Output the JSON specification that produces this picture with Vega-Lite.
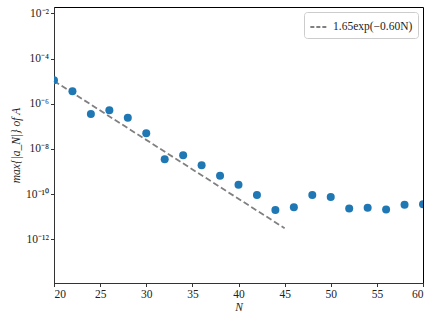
{
  "$schema": "https://vega.github.io/schema/vega-lite/v6.json",
  "autosize": {"type": "none"},
  "padding": {"left": 54, "top": 7, "right": 13, "bottom": 37},
  "width": 369,
  "height": 276,
  "background": "white",
  "config": {
    "view": {"stroke": "black", "strokeWidth": 1},
    "font": "Liberation Serif",
    "axis": {
      "grid": false,
      "domainColor": "#333",
      "tickColor": "#333",
      "labelColor": "#222",
      "titleColor": "#222",
      "labelFont": "Liberation Serif",
      "titleFont": "Liberation Serif",
      "labelFontSize": 11.5,
      "titleFontSize": 11.5,
      "titleFontWeight": "normal",
      "tickSize": 3.5
    }
  },
  "layer": [
    {
      "data": {"values": [
        {"N": 20, "label": "1.65exp(−0.60N)", "v": 1.01e-5},
        {"N": 45, "label": "1.65exp(−0.60N)", "v": 3.1e-12}
      ]},
      "mark": {"type": "line", "strokeDash": [6, 3], "strokeWidth": 1.8},
      "encoding": {
        "x": {"field": "N", "type": "quantitative"},
        "y": {"field": "v", "type": "quantitative"},
        "color": {
          "field": "label", "type": "nominal",
          "scale": {"range": ["#808080"]},
          "legend": {
            "title": null,
            "orient": "top-right",
            "offset": 5,
            "symbolType": "stroke",
            "symbolDash": [4, 2],
            "symbolStrokeWidth": 1.8,
            "symbolSize": 300,
            "labelFont": "Liberation Serif",
            "labelFontSize": 11.5,
            "labelColor": "#222",
            "fillColor": "white",
            "strokeColor": "#cccccc",
            "cornerRadius": 3,
            "padding": 5
          }
        }
      }
    },
    {
      "data": {"values": [
        {"N": 20, "v": 1.1e-5},
        {"N": 22, "v": 3.6e-6},
        {"N": 24, "v": 3.5e-7},
        {"N": 26, "v": 5.2e-7},
        {"N": 28, "v": 2.4e-7},
        {"N": 30, "v": 4.9e-8},
        {"N": 32, "v": 3.5e-9},
        {"N": 34, "v": 5.2e-9},
        {"N": 36, "v": 1.9e-9},
        {"N": 38, "v": 6.5e-10},
        {"N": 40, "v": 2.6e-10},
        {"N": 42, "v": 9.1e-11},
        {"N": 44, "v": 2.0e-11},
        {"N": 46, "v": 2.6e-11},
        {"N": 48, "v": 9.1e-11},
        {"N": 50, "v": 7.4e-11},
        {"N": 52, "v": 2.3e-11},
        {"N": 54, "v": 2.5e-11},
        {"N": 56, "v": 2.1e-11},
        {"N": 58, "v": 3.4e-11},
        {"N": 60, "v": 3.6e-11}
      ]},
      "mark": {"type": "point", "filled": true, "opacity": 1, "size": 64, "color": "#1f77b4", "clip": true},
      "encoding": {
        "x": {
          "field": "N", "type": "quantitative",
          "scale": {"domain": [20, 60], "nice": false, "zero": false},
          "axis": {"values": [20, 25, 30, 35, 40, 45, 50, 55, 60], "title": "N", "titleFontStyle": "italic", "titlePadding": 1}
        },
        "y": {
          "field": "v", "type": "quantitative",
          "scale": {"type": "log", "domain": [1.17e-14, 1.9e-2], "nice": false},
          "axis": {
            "values": [1e-12, 1e-10, 1e-8, 1e-6, 1e-4, 1e-2],
            "labelExpr": "{'-2':'10⁻²','-4':'10⁻⁴','-6':'10⁻⁶','-8':'10⁻⁸','-10':'10⁻¹⁰','-12':'10⁻¹²'}[round(log(datum.value)/LN10)]",
            "title": "max{|a_N|} of A",
            "titleFontStyle": "italic",
            "titlePadding": 4
          }
        }
      }
    }
  ]
}
